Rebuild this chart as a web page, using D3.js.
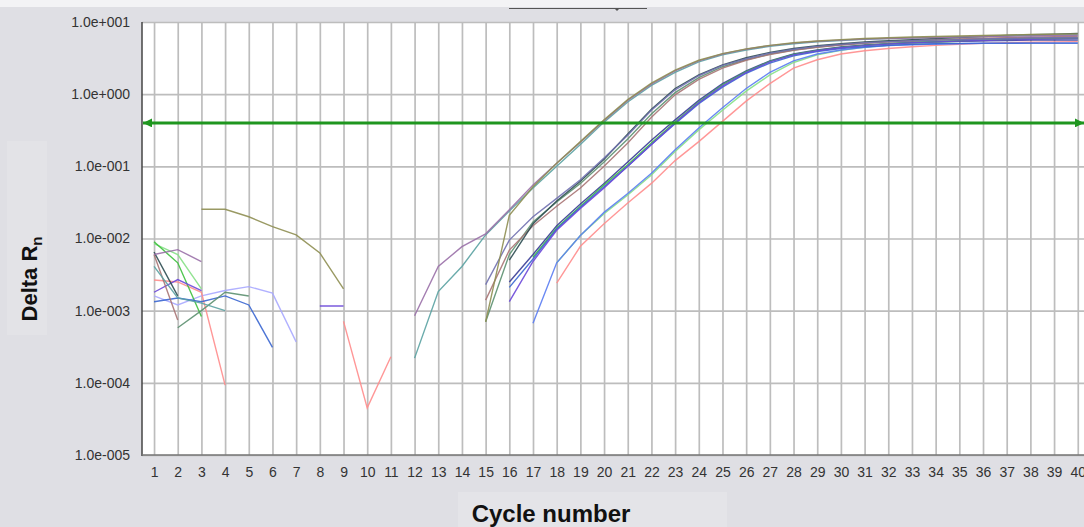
<!DOCTYPE html>
<html lang="en">
<head>
    <meta charset="utf-8">
    <title>Amplification plot</title>
    <script src="https://cdn.jsdelivr.net/npm/d3@7"></script>
    <style>
        body { margin: 0; background: #dfdfe4; font-family: 'Liberation Sans', Arial, sans-serif; }
        svg { display: block; }
        .tick text { fill: #333; font-size: 14px; }
    </style>
</head>
<body>
<svg id="chart"></svg>
<script>
    var _ = null;

    // cycle numbers (x categories)
    var cycles = [1,2,3,4,5,6,7,8,9,10,11,12,13,14,15,16,17,18,19,20,
                  21,22,23,24,25,26,27,28,29,30,31,32,33,34,35,36,37,38,39,40];

    // y axis ticks
    var yTickValues = [1e-5, 1e-4, 1e-3, 1e-2, 1e-1, 1, 10];
    var yTickLabels = ["1.0e-005", "1.0e-004", "1.0e-003", "1.0e-002", "1.0e-001", "1.0e+000", "1.0e+001"];

    var threshold = 0.4;

    // Delta Rn per well, one value per cycle (null = not plotted)
    var olive = [_, _, 0.0254, 0.0254, 0.020, 0.0146, 0.0112, 0.0063, 0.0020, _, _, _, _, _,
        0.0007, 0.021, 0.052, 0.11, 0.22, 0.44, 0.84, 1.42, 2.15, 2.95, 3.65, 4.25, 4.75, 5.15, 5.45, 5.7,
        5.9, 6.05, 6.2, 6.3, 6.4, 6.5, 6.6, 6.7, 6.75, 6.85];
    var purple = [0.006, 0.007, 0.0048, _, _, _, _, _, _, _, _,
        0.00085, 0.0041, 0.0077, 0.0116, 0.025, 0.055, 0.11, 0.215, 0.43, 0.82, 1.38, 2.1, 2.9, 3.6, 4.2,
        4.7, 5.1, 5.4, 5.6, 5.8, 5.9, 6.0, 6.1, 6.2, 6.3, 6.35, 6.4, 6.5, 6.55];
    var teal = [0.0041, 0.0015, 0.00127, 0.0010, _, _, _, _, _, _, _,
        0.00022, 0.00184, 0.0041, 0.0112, 0.024, 0.05, 0.10, 0.20, 0.41, 0.78, 1.32, 2.0, 2.8, 3.5, 4.1,
        4.6, 5.0, 5.3, 5.55, 5.75, 5.9, 6.05, 6.15, 6.25, 6.35, 6.45, 6.5, 6.6, 6.65];
    var slateBlue = [_, _, _, _, _, _, _, _, _, _, _, _, _, _,
        0.0023, 0.0095, 0.02, 0.036, 0.065, 0.13, 0.27, 0.6, 1.15, 1.8, 2.5, 3.1, 3.7, 4.2, 4.6, 4.9,
        5.15, 5.35, 5.5, 5.6, 5.7, 5.8, 5.9, 6.0, 6.05, 6.1];
    var darkSlate = [0.0065, 0.0016, _, _, _, _, _, _, _, _, _, _, _, _, _,
        0.005, 0.016, 0.033, 0.062, 0.125, 0.28, 0.62, 1.2, 1.85, 2.55, 3.2, 3.8, 4.3, 4.7, 5.0,
        5.3, 5.5, 5.7, 5.9, 6.1, 6.3, 6.5, 6.65, 6.8, 6.95];
    var brown = [0.006, 0.00074, _, _, _, _, _, _, _, _, _, _, _, _,
        0.0014, 0.0069, 0.015, 0.028, 0.05, 0.1, 0.21, 0.48, 0.98, 1.6, 2.3, 2.95, 3.55, 4.05, 4.45, 4.8,
        5.05, 5.3, 5.5, 5.65, 5.8, 5.95, 6.05, 6.15, 6.25, 6.3];
    var darkGreen = [_, 0.00058, 0.0010, 0.0018, 0.0016, _, _, _, _, _, _, _, _, _,
        0.0007, 0.006, 0.017, 0.032, 0.058, 0.115, 0.24, 0.53, 1.05, 1.7, 2.4, 3.0, 3.6, 4.1, 4.5, 4.85,
        5.1, 5.3, 5.45, 5.6, 5.7, 5.8, 5.9, 5.95, 6.0, 6.05];
    var violet = [0.0018, 0.0027, 0.0019, _, _, _, _, 0.00116, 0.00116, _, _, _, _, _, _,
        0.00133, 0.0048, 0.013, 0.026, 0.05, 0.1, 0.2, 0.4, 0.76, 1.3, 2.0, 2.8, 3.5, 4.0, 4.4,
        4.7, 4.95, 5.15, 5.3, 5.45, 5.55, 5.65, 5.75, 5.8, 5.85];
    var blue = [0.00133, 0.0015, 0.00133, 0.0016, 0.0012, 0.00031, _, _, _, _, _, _, _, _, _,
        0.0021, 0.0052, 0.0135, 0.027, 0.052, 0.1, 0.2, 0.39, 0.74, 1.25, 1.95, 2.7, 3.4, 3.9, 4.3,
        4.55, 4.75, 4.9, 5.0, 5.05, 5.1, 5.1, 5.1, 5.1, 5.1];
    var green = [0.009, 0.0046, 0.00083, _, _, _, _, _, _, _, _, _, _, _, _, _,
        0.0055, 0.014, 0.028, 0.055, 0.105, 0.21, 0.41, 0.78, 1.35, 2.05, 2.85, 3.55, 4.05, 4.45,
        4.75, 5.0, 5.2, 5.35, 5.5, 5.6, 5.7, 5.8, 5.85, 5.9];
    var navy = [_, _, _, _, _, _, _, _, _, _, _, _, _, _, _,
        0.0025, 0.006, 0.015, 0.03, 0.058, 0.115, 0.23, 0.44, 0.82, 1.4, 2.1, 2.9, 3.6, 4.1, 4.5,
        4.8, 5.0, 5.2, 5.3, 5.4, 5.5, 5.55, 5.6, 5.6, 5.6];
    var lightBlue = [_, _, _, _, _, _, _, _, _, _, _, _, _, _, _, _,
        0.00067, 0.0046, 0.011, 0.023, 0.042, 0.08, 0.17, 0.34, 0.65, 1.2, 2.0, 2.9, 3.6, 4.1,
        4.45, 4.7, 4.85, 4.95, 5.0, 5.05, 5.05, 5.1, 5.1, 5.1];
    var lightGreen = [0.0085, 0.006, 0.002, _, _, _, _, _, _, _, _, _, _, _, _, _, _,
        0.0046, 0.011, 0.022, 0.04, 0.076, 0.16, 0.32, 0.6, 1.1, 1.85, 2.75, 3.5, 4.05,
        4.45, 4.75, 5.0, 5.2, 5.4, 5.55, 5.7, 5.8, 5.9, 6.0];
    var pink = [0.00266, 0.0025, 0.0018, 0.000093, _, _, _, _, 0.00071, 0.000045, 0.00023, _, _, _, _, _, _,
        0.0024, 0.0078, 0.016, 0.031, 0.058, 0.12, 0.22, 0.42, 0.8, 1.4, 2.3, 3.0, 3.6,
        4.0, 4.3, 4.55, 4.75, 4.9, 5.05, 5.15, 5.25, 5.3, 5.35];
    var lavender = [0.0016, 0.0012, 0.0016, 0.0019, 0.00215, 0.00175, 0.00037];

    var wells = [
        { values: lavender,   color: "#a8a8ff" },
        { values: pink,       color: "#ff8c8c" },
        { values: lightGreen, color: "#86e086" },
        { values: lightBlue,  color: "#5a7cf2" },
        { values: navy,       color: "#383c96" },
        { values: green,      color: "#3cc03c" },
        { values: blue,       color: "#3a66d0" },
        { values: violet,     color: "#6b48d8" },
        { values: darkGreen,  color: "#5c9070" },
        { values: brown,      color: "#a87474" },
        { values: darkSlate,  color: "#2e4c52" },
        { values: slateBlue,  color: "#7070b0" },
        { values: teal,       color: "#5aa2a2" },
        { values: purple,     color: "#9a70a8" },
        { values: olive,      color: "#8e8e52" }
    ];

    var width = 1084, height = 527;
    var plot = { left: 142, top: 22, right: 1084, bottom: 455 };

    var svg = d3.select("#chart").attr("width", width).attr("height", height);

    // panel backgrounds
    svg.append("rect").attr("width", width).attr("height", height).attr("fill", "#dfdfe4");
    svg.append("rect").attr("width", width).attr("height", 7).attr("fill", "#f3f3f5");
    svg.append("rect").attr("x", 7).attr("y", 141).attr("width", 40).attr("height", 194).attr("fill", "#e3e3e7");
    svg.append("rect").attr("x", 458).attr("y", 492).attr("width", 269).attr("height", 35).attr("fill", "#e4e4e8");

    // little slider at the top
    svg.append("line").attr("x1", 509).attr("x2", 647).attr("y1", 8.5).attr("y2", 8.5)
        .attr("stroke", "#555").attr("stroke-width", 1);
    svg.append("path").attr("d", "M614,8 L620,8 L617,11 Z").attr("fill", "#555");

    svg.append("rect").attr("x", plot.left).attr("y", plot.top)
        .attr("width", plot.right - plot.left).attr("height", plot.bottom - plot.top).attr("fill", "#fff");

    var x = d3.scaleLinear().domain([0.5, 40.5]).range([142.2, 1089.6]);
    var y = d3.scaleLog().domain([1e-5, 10]).range([plot.bottom, plot.top]);

    svg.append("clipPath").attr("id", "clip").append("rect")
        .attr("x", plot.left).attr("y", plot.top - 2)
        .attr("width", plot.right - plot.left).attr("height", plot.bottom - plot.top + 4);

    // grid
    var grid = svg.append("g").attr("clip-path", "url(#clip)");
    grid.append("g").attr("transform", "translate(0," + plot.bottom + ")")
        .call(d3.axisBottom(x).tickValues(cycles).tickSize(-(plot.bottom - plot.top)).tickFormat(""))
        .call(function (g) { g.select(".domain").remove(); })
        .selectAll("line").attr("stroke", "#bdbdbd").attr("stroke-width", 1.7);
    grid.append("g").attr("transform", "translate(" + plot.left + ",0)")
        .call(d3.axisLeft(y).tickValues(yTickValues).tickSize(-(plot.right - plot.left)).tickFormat(""))
        .call(function (g) { g.select(".domain").remove(); })
        .selectAll("line").attr("stroke", "#bdbdbd").attr("stroke-width", 1.7);

    // curves
    var line = d3.line()
        .defined(function (d) { return d.v != null; })
        .x(function (d) { return x(d.c); })
        .y(function (d) { return y(d.v); });

    grid.selectAll("path.well")
        .data(wells)
        .enter().append("path")
        .attr("class", "well")
        .attr("fill", "none")
        .attr("stroke", function (d) { return d.color; })
        .attr("stroke-width", 1.4)
        .attr("stroke-opacity", 0.9)
        .attr("d", function (d) {
            return line(cycles.map(function (c, i) { return { c: c, v: d.values[i] }; }));
        });

    // threshold with arrow heads
    var defs = svg.append("defs");
    defs.append("marker").attr("id", "arrL").attr("viewBox", "0 0 10 10")
        .attr("refX", 0).attr("refY", 5).attr("markerWidth", 3).attr("markerHeight", 3)
        .attr("markerUnits", "strokeWidth").attr("orient", "auto")
        .append("path").attr("d", "M0,5 L10,0 L10,10 Z").attr("fill", "#1f961f");
    defs.append("marker").attr("id", "arrR").attr("viewBox", "0 0 10 10")
        .attr("refX", 10).attr("refY", 5).attr("markerWidth", 3).attr("markerHeight", 3)
        .attr("markerUnits", "strokeWidth").attr("orient", "auto")
        .append("path").attr("d", "M0,0 L10,5 L0,10 Z").attr("fill", "#1f961f");
    svg.append("line")
        .attr("x1", plot.left + 1).attr("x2", plot.right)
        .attr("y1", y(threshold)).attr("y2", y(threshold))
        .attr("stroke", "#1f961f").attr("stroke-width", 3)
        .attr("marker-start", "url(#arrL)").attr("marker-end", "url(#arrR)");

    // axis lines
    svg.append("line").attr("x1", plot.left).attr("x2", plot.left)
        .attr("y1", plot.top).attr("y2", plot.bottom + 1)
        .attr("stroke", "#444").attr("stroke-width", 1.5);
    svg.append("line").attr("x1", plot.left).attr("x2", plot.right)
        .attr("y1", plot.bottom).attr("y2", plot.bottom)
        .attr("stroke", "#777").attr("stroke-width", 1.5);

    // tick labels
    svg.append("g").attr("transform", "translate(" + plot.left + ",0)")
        .call(d3.axisLeft(y).tickValues(yTickValues).tickSize(0).tickPadding(12)
            .tickFormat(function (d, i) { return yTickLabels[i]; }))
        .call(function (g) { g.select(".domain").remove(); });
    svg.append("g").attr("transform", "translate(0," + plot.bottom + ")")
        .call(d3.axisBottom(x).tickValues(cycles).tickSize(0).tickPadding(12).tickFormat(d3.format("d")))
        .call(function (g) { g.select(".domain").remove(); });
    svg.selectAll(".tick text").attr("font-family", "'Liberation Sans', Arial, sans-serif");

    // axis titles
    svg.append("text")
        .attr("x", 551).attr("y", 522)
        .attr("text-anchor", "middle")
        .attr("font-size", 24).attr("font-weight", "bold").attr("fill", "#111")
        .text("Cycle number");

    var yt = svg.append("text")
        .attr("transform", "translate(37,279) rotate(-90)")
        .attr("text-anchor", "middle")
        .attr("font-size", 22).attr("font-weight", "bold").attr("fill", "#111");
    yt.append("tspan").text("Delta R");
    yt.append("tspan").attr("font-size", 15).attr("dy", 5).text("n");
</script>
</body>
</html>
